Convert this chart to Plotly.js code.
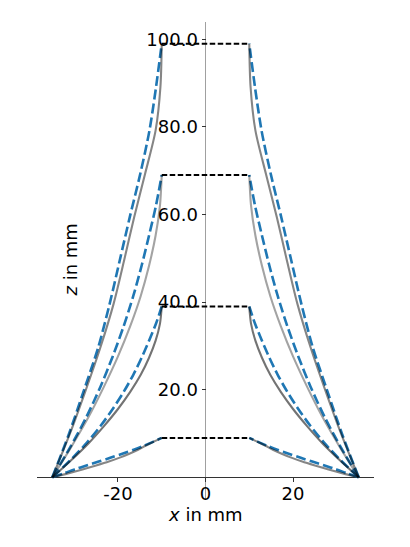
<!DOCTYPE html>
<html>
<head>
<meta charset="utf-8">
<script src="https://cdn.plot.ly/plotly-3.0.1.min.js"></script>
<style>html,body{margin:0;padding:0;background:#fff}#chart{width:410px;height:547px}</style>
</head>
<body>
<div id="chart"></div>
<script>
// Heights of the horizontal (dashed) levels, in mm
const levels = [9, 39, 69, 99];
// Half-width of the top plateau, in mm
const topHalfWidth = 10;
// Profile sample positions as fraction of each level height
const profileT = [0, 0.1, 0.2, 0.3, 0.4, 0.5, 0.6, 0.7, 0.8, 0.9, 1.0];
// Blue dashed profiles: half-width r (mm) at each profileT, per level
const blueR9  = [35, 32.4, 29.9, 27.2, 24.4, 21.6, 19.0, 16.4, 14.1, 12.0, 10];
const blueR39 = [35, 30.9, 27.2, 24.0, 21.2, 18.7, 16.5, 14.6, 12.9, 11.3, 10];
const blueR69 = [35, 30.9, 27.2, 24.0, 21.2, 18.7, 16.5, 14.6, 12.9, 11.3, 10];
const blueR99 = [35, 31.2, 27.8, 24.5, 21.9, 19.6, 17.3, 14.9, 12.8, 11.3, 10];
// Grey solid profiles
const greyR9  = [35, 31.4, 28.1, 25.0, 22.1, 19.6, 17.4, 15.4, 13.7, 11.9, 10];
const greyR39 = [35, 30.7, 26.7, 23.2, 20.0, 17.2, 14.8, 12.9, 11.4, 10.4, 10];
const greyR69 = [35, 30.7, 26.7, 23.2, 20.0, 17.2, 14.8, 12.9, 11.4, 10.4, 10];
const greyR99 = [35, 31.0, 27.4, 24.0, 21.0, 18.6, 16.3, 13.8, 11.4, 10.3, 10];
const greyColors = ['rgba(0,0,0,0.48)', 'rgba(0,0,0,0.55)', 'rgba(0,0,0,0.36)', 'rgba(0,0,0,0.48)'];
// Tick labels
const xTickVals = [-20, 0, 20];
const xTickText = ['-20', '0', '20'];
const zTickVals = [20, 40, 60, 80, 100];
const zTickText = ['20.0', '40.0', '60.0', '80.0', '100.0'];

const blueSets = [blueR9, blueR39, blueR69, blueR99];
const greySets = [greyR9, greyR39, greyR69, greyR99];

const traces = [];
function side(rArr, h, sign) {
  return { x: rArr.map(r => sign * r), y: profileT.map(t => t * h) };
}
levels.forEach((h, i) => {
  [-1, 1].forEach(sign => {
    const p = side(blueSets[i], h, sign);
    traces.push({ x: p.x, y: p.y, mode: 'lines', type: 'scatter', hoverinfo: 'skip',
      line: { color: '#1f77b4', width: 2.6, dash: '10px,4px', shape: 'spline', smoothing: 0.8 } });
  });
});
levels.forEach((h, i) => {
  [-1, 1].forEach(sign => {
    const p = side(greySets[i], h, sign);
    traces.push({ x: p.x, y: p.y, mode: 'lines', type: 'scatter', hoverinfo: 'skip',
      line: { color: greyColors[i], width: 2.1, shape: 'spline', smoothing: 0.8 } });
  });
});
levels.forEach(h => {
  traces.push({ x: [-topHalfWidth, topHalfWidth], y: [h, h], mode: 'lines', type: 'scatter', hoverinfo: 'skip',
    line: { color: '#000', width: 2, dash: '5.5px,2.5px' } });
});

const W = 337, H = 476.6;
const layout = {
  width: 410, height: 547,
  margin: { l: 37, r: 36, t: 22, b: 48.4, pad: 0 },
  paper_bgcolor: '#fff', plot_bgcolor: '#fff',
  showlegend: false,
  font: { family: 'DejaVu Sans', size: 18, color: '#000' },
  xaxis: {
    range: [-38.5, 38.5], anchor: 'free', position: 4.95 / 108.9,
    showgrid: false, zeroline: true, zerolinecolor: '#a0a0a0', zerolinewidth: 1.6,
    showline: false, ticks: 'outside', ticklen: 4, tickwidth: 1, tickcolor: '#333',
    ticklabelstandoff: -4,
    tickvals: xTickVals, ticktext: xTickText, tickfont: { family: 'DejaVu Sans', size: 18, color: '#000' }
  },
  yaxis: {
    range: [-4.95, 103.95], anchor: 'free', position: 0.5, side: 'left',
    showgrid: false, zeroline: true, zerolinecolor: '#333', zerolinewidth: 1.2,
    showline: false, ticks: 'outside', ticklen: 4, tickwidth: 1, tickcolor: '#333',
    tickvals: zTickVals, ticktext: zTickText, tickfont: { family: 'DejaVu Sans', size: 18, color: '#000' }
  },
  annotations: [
    { text: '<i>x</i> in mm', xref: 'paper', yref: 'paper', x: 0.5, y: (498.6 - 514) / H,
      xanchor: 'center', yanchor: 'middle', showarrow: false, font: { family: 'DejaVu Sans', size: 18, color: '#000' } },
    { text: '<i>z</i> in mm', xref: 'paper', yref: 'paper', x: (70 - 37) / W, y: 0.5, textangle: -90,
      xanchor: 'center', yanchor: 'middle', showarrow: false, font: { family: 'DejaVu Sans', size: 18, color: '#000' } }
  ]
};
Plotly.newPlot('chart', traces, layout, { displayModeBar: false, staticPlot: true });
</script>
</body>
</html>
